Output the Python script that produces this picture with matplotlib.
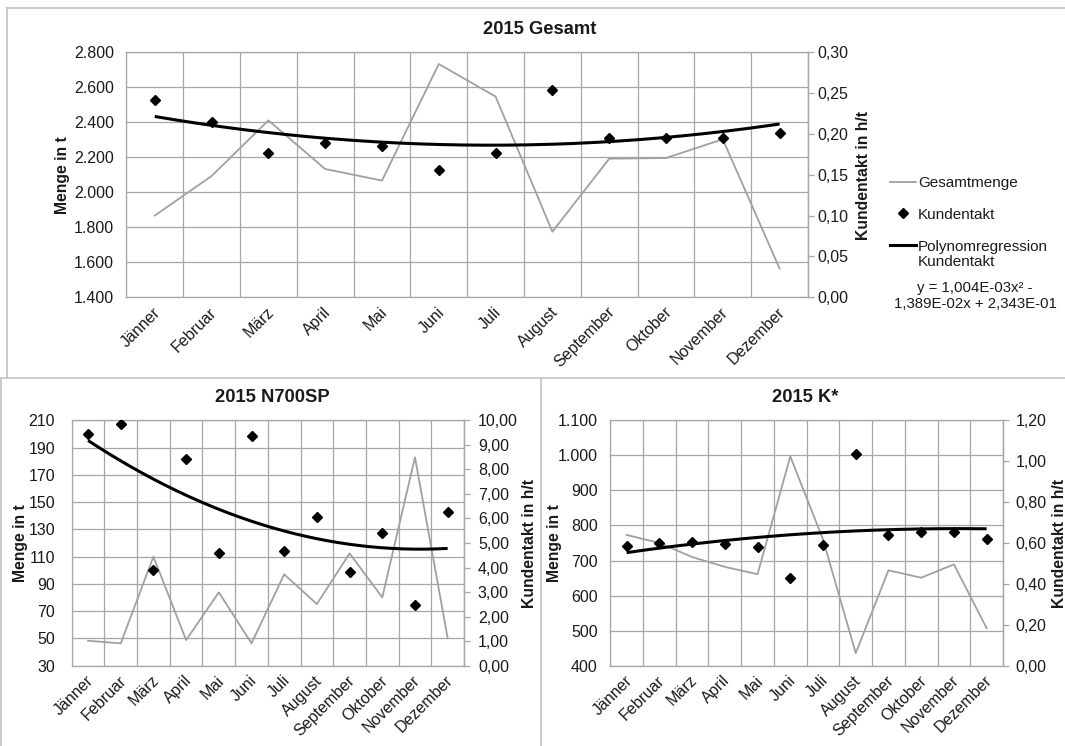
import numpy as np
import matplotlib
matplotlib.use("Agg")
import matplotlib.pyplot as plt
from matplotlib.lines import Line2D
from matplotlib.ticker import FuncFormatter, FixedLocator
import matplotlib.transforms as mtransforms

plt.rcParams['font.family'] = ['Liberation Sans', 'DejaVu Sans']

# ---- data -------------------------------------------------------------
months = ["Jänner", "Februar", "März", "April", "Mai", "Juni", "Juli",
          "August", "September", "Oktober", "November", "Dezember"]

# 2015 Gesamt
gesamt_menge = [1867, 2093, 2411, 2133, 2067, 2733, 2547, 1775, 2192, 2196, 2303, 1564]
gesamt_takt = [0.241, 0.215, 0.177, 0.189, 0.185, 0.156, 0.177, 0.254, 0.195, 0.195, 0.195, 0.201]
gesamt_trend_coef = [1.004e-03, -1.389e-02, 2.343e-01]
gesamt_equation = "y = 1,004E-03x² -\n1,389E-02x + 2,343E-01"

# 2015 N700SP
n700_menge = [48.3, 46.4, 110, 48.8, 83.8, 46.4, 97, 75.2, 112.4, 80.1, 182.8, 50.3]
n700_takt = [9.44, 9.85, 3.90, 8.44, 4.61, 9.36, 4.67, 6.06, 3.82, 5.39, 2.48, 6.26]

# 2015 K*
k_menge = [773, 750, 710, 682, 661, 997, 760, 436, 672, 651, 689, 507]
k_takt = [0.583, 0.599, 0.604, 0.596, 0.580, 0.429, 0.591, 1.034, 0.637, 0.656, 0.655, 0.622]

# axis ticks (left: Menge, right: Kundentakt)
gesamt_ticks_l = list(range(1400, 2801, 200))
gesamt_ticks_r = [0.00, 0.05, 0.10, 0.15, 0.20, 0.25, 0.30]
n700_ticks_l = list(range(30, 211, 20))
n700_ticks_r = list(range(0, 11))
k_ticks_l = list(range(400, 1101, 100))
k_ticks_r = [0.0, 0.2, 0.4, 0.6, 0.8, 1.0, 1.2]

legend_labels = ["Gesamtmenge", "Kundentakt", "Polynomregression", "Kundentakt"]

# ---- styling ----------------------------------------------------------
W, H = 1065, 746
GRID = "#a6a6a6"
LINE_GRAY = "#a0a0a0"
TEXT = "#1a1a1a"
FS_TICK = 11.5
FS_LABEL = 11.3
FS_LEGEND = 11.0
FS_TITLE = 13.2


def fx(x):
    return x / W


def fy(y):
    return 1 - y / H


def rect(l, t, r, b):
    return [fx(l), fy(b), (r - l) / W, (b - t) / H]


def thousands(v, pos=None):
    return f"{v:,.0f}".replace(",", ".")


def dec2(v, pos=None):
    return f"{v:.2f}".replace(".", ",")


fig = plt.figure(figsize=(W / 100, H / 100), dpi=100)


def panel(box, menge, takt, ticks_l, ticks_r, trend_coef, pad_l, pad_r):
    x = np.arange(1, 13)
    ax = fig.add_axes(rect(*box))
    ax2 = ax.twinx()

    ax.set_xlim(0.5, 12.5)
    ax.set_ylim(ticks_l[0], ticks_l[-1])
    ax.yaxis.set_major_locator(FixedLocator(ticks_l))
    ax.yaxis.set_major_formatter(FuncFormatter(thousands))
    ax2.set_ylim(ticks_r[0], ticks_r[-1])
    ax2.yaxis.set_major_locator(FixedLocator(ticks_r))
    ax2.yaxis.set_major_formatter(FuncFormatter(dec2))

    ax.set_xticks(x)
    ax.set_xticklabels(months)
    ax.set_xticks(np.arange(0.5, 13, 1), minor=True)
    ax.grid(True, which="minor", axis="x", color=GRID, lw=0.9)
    ax.grid(True, which="major", axis="y", color=GRID, lw=0.9)
    ax.set_axisbelow(True)

    ax.tick_params(axis="x", which="both", length=0, pad=9,
                   labelsize=FS_TICK, labelcolor=TEXT)
    ax.tick_params(axis="y", length=0, pad=pad_l, labelsize=FS_TICK,
                   labelcolor=TEXT)
    ax2.tick_params(axis="y", length=4, width=0.9, color=GRID,
                    direction="out", pad=pad_r, labelsize=FS_TICK,
                    labelcolor=TEXT)
    offset = mtransforms.ScaledTranslation(0.03, 0, fig.dpi_scale_trans)
    for lab in ax.get_xticklabels():
        lab.set_rotation(45)
        lab.set_ha("right")
        lab.set_va("center")
        lab.set_rotation_mode("anchor")
        lab.set_transform(lab.get_transform() + offset)

    for sp in ax.spines.values():
        sp.set_color(GRID)
        sp.set_linewidth(0.9)
    for name, sp in ax2.spines.items():
        sp.set_visible(name == "right")
        sp.set_color(GRID)
        sp.set_linewidth(0.9)

    h_menge, = ax.plot(x, menge, color=LINE_GRAY, lw=1.3, zorder=3)
    h_takt, = ax2.plot(x, takt, linestyle="none", marker="D", ms=4.6,
                       color="black", zorder=5)
    if trend_coef is None:
        trend_coef = np.polyfit(x, takt, 2)
    xs = np.linspace(1, 12, 200)
    h_trend, = ax2.plot(xs, np.polyval(trend_coef, xs), color="black",
                        lw=2.2, zorder=4, solid_capstyle="butt")
    return ax, ax2, (h_menge, h_takt, h_trend)


def side_labels(xl, xr, yc):
    fig.text(fx(xl), fy(yc), "Menge in t", rotation=90, ha="center",
             va="center", fontsize=FS_LABEL, fontweight="bold", color=TEXT)
    fig.text(fx(xr), fy(yc), "Kundentakt in h/t", rotation=90, ha="center",
             va="center", fontsize=FS_LABEL, fontweight="bold", color=TEXT)


# ---- top: 2015 Gesamt --------------------------------------------------
ax_g, ax_g2, handles = panel((126.4, 52.3, 808, 297.3), gesamt_menge, gesamt_takt,
                             gesamt_ticks_l, gesamt_ticks_r,
                             gesamt_trend_coef, 9, 3)
fig.text(fx(540), fy(30), "2015 Gesamt", ha="center", va="center",
         fontsize=FS_TITLE, fontweight="bold", color=TEXT)
side_labels(63, 864, 175)

# legend keys, each styled like its series
h_menge, h_takt, h_trend = handles
key_x0, key_x1, text_x = 890, 916, 918
fig.add_artist(Line2D([fx(key_x0), fx(key_x1)], [fy(182), fy(182)],
                      color=h_menge.get_color(), lw=h_menge.get_linewidth()))
fig.add_artist(Line2D([fx((key_x0 + key_x1) / 2)], [fy(213)], linestyle="none",
                      marker=h_takt.get_marker(), ms=h_takt.get_markersize(),
                      color=h_takt.get_color()))
fig.add_artist(Line2D([fx(key_x0), fx(key_x1)], [fy(245), fy(245)],
                      color=h_trend.get_color(), lw=h_trend.get_linewidth()))
for label, yy in zip(legend_labels, [182, 213, 245, 261]):
    fig.text(fx(text_x), fy(yy), label, ha="left", va="center_baseline",
             fontsize=FS_LEGEND, color=TEXT)
fig.text(fx(975), fy(296), gesamt_equation, ha="center", va="center",
         fontsize=10.8, linespacing=1.15, color=TEXT)

# ---- bottom left: 2015 N700SP ------------------------------------------
panel((71.7, 420.3, 464, 665.7), n700_menge, n700_takt,
      n700_ticks_l, n700_ticks_r, None, 12, 6)
fig.text(fx(272), fy(397), "2015 N700SP", ha="center", va="center",
         fontsize=FS_TITLE, fontweight="bold", color=TEXT)
side_labels(21, 529, 543)

# ---- bottom right: 2015 K* ---------------------------------------------
panel((610.3, 420.3, 1003, 665.7), k_menge, k_takt,
      k_ticks_l, k_ticks_r, None, 9, 5)
fig.text(fx(805), fy(397), "2015 K*", ha="center", va="center",
         fontsize=FS_TITLE, fontweight="bold", color=TEXT)
side_labels(555, 1059, 543)

# ---- chart frames ------------------------------------------------------
FRAME = "#c6c6c6"
for xs_, ys_ in [((7, 1065), (8, 8)), ((7, 7), (8, 377.7)),
                 ((0, 1065), (377.7, 377.7)), ((1, 1), (377.7, 746)),
                 ((541, 541), (377.7, 746))]:
    fig.add_artist(Line2D([fx(v) for v in xs_], [fy(v) for v in ys_],
                          color=FRAME, lw=1.3))

fig.savefig("out.png", dpi=100, facecolor="white")
